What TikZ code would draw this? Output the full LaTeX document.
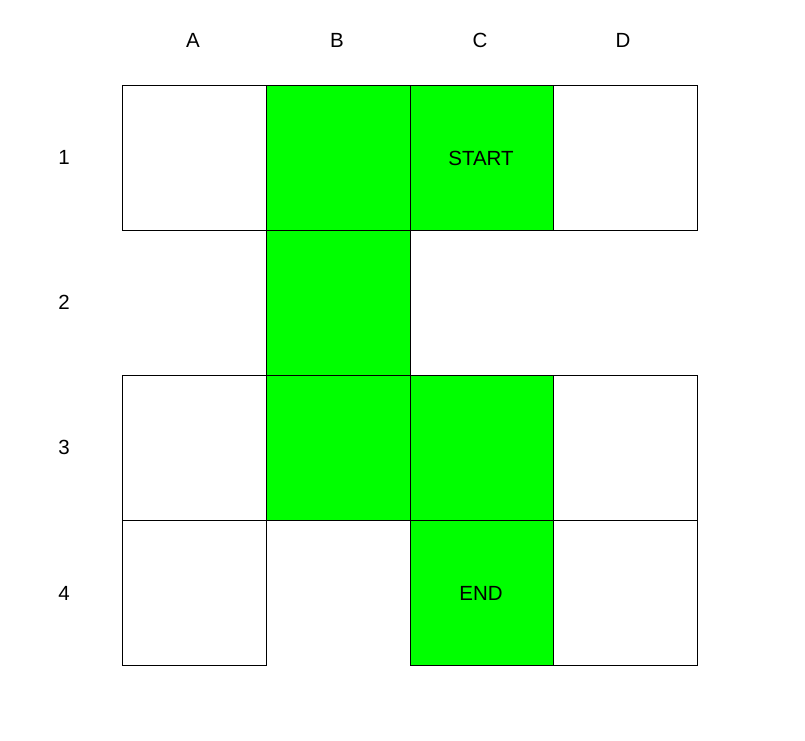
\documentclass[tikz,border=0pt]{standalone}
\usepackage{fontspec}
\setmainfont{Liberation Sans}
\begin{document}
\begin{tikzpicture}[x=1pt,y=-1pt,
  cell/.style={draw=black,line width=1.2pt,minimum width=143.75pt,minimum height=145pt,inner sep=0pt,anchor=north west,font=\fontsize{20.5}{22}\selectfont},
  white/.style={cell,fill=white},
  grn/.style={cell,fill=green},
  lbl/.style={font=\fontsize{20.5}{22}\selectfont,inner sep=0pt}]
\useasboundingbox (0,0) rectangle (805,740);
% column labels
\node[lbl] (hA) at (193,40) {A};
\node[lbl] (hB) at (337,40) {B};
\node[lbl] (hC) at (480,40) {C};
\node[lbl] (hD) at (623,40) {D};
% row labels
\node[lbl] (r1) at (64,157) {1};
\node[lbl] (r2) at (64,302) {2};
\node[lbl] (r3) at (64,447) {3};
\node[lbl] (r4) at (64,593) {4};
% cells
\node[white] (A1) at (122,85) {};
\node[grn] (B1) at (265.75,85) {};
\node[grn,text width=143.75pt,align=center] (C1) at (409.5,85) {\hspace*{-2pt}START};
\node[white] (D1) at (553.25,85) {};
\node[grn] (B2) at (265.75,230) {};
\node[white] (A3) at (122,375) {};
\node[grn] (B3) at (265.75,375) {};
\node[grn] (C3) at (409.5,375) {};
\node[white] (D3) at (553.25,375) {};
\node[white] (A4) at (122,520) {};
\node[grn,text width=143.75pt,align=center] (C4) at (409.5,520) {\hspace*{-2pt}END};
\node[white] (D4) at (553.25,520) {};
\end{tikzpicture}
\end{document}
